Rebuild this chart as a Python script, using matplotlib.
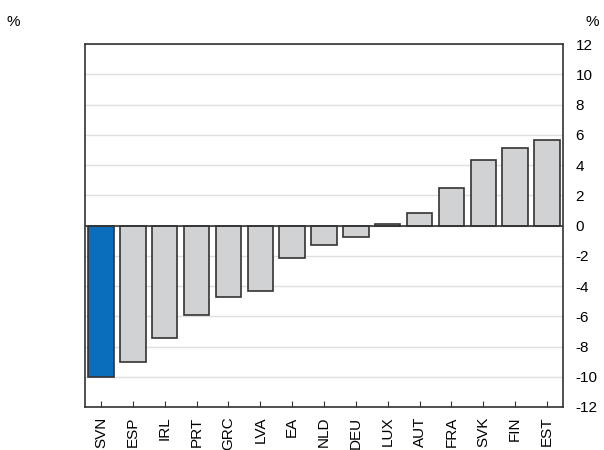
import matplotlib
matplotlib.use("Agg")
import matplotlib.pyplot as plt

plt.rcParams['font.family'] = ['Liberation Sans', 'DejaVu Sans']

countries = ["SVN", "ESP", "IRL", "PRT", "GRC", "LVA", "EA", "NLD", "DEU",
             "LUX", "AUT", "FRA", "SVK", "FIN", "EST"]
values = [-10.0, -9.0, -7.45, -5.9, -4.7, -4.35, -2.15, -1.3, -0.75,
          0.13, 0.8, 2.5, 4.3, 5.1, 5.65]
highlight = "SVN"
y_ticks = list(range(-12, 13, 2))

fig = plt.figure(figsize=(6.04, 4.5), dpi=100)
ax = fig.add_axes([85/604, 1-407/450, (563-85)/604, (407-44)/450])

colors = ["#0a6ebd" if c == highlight else "#d1d2d4" for c in countries]
x = list(range(len(countries)))
ax.bar(x, values, width=0.8, color=colors, edgecolor="#333333", linewidth=1.2, zorder=3)

ax.axhline(0, color="#333333", linewidth=1.2, zorder=4)
ax.set_xlim(-0.5, len(countries) - 0.5)
ax.set_ylim(-12, 12)
ax.set_yticks(y_ticks)
ax.set_yticklabels([str(t) for t in y_ticks])
ax.grid(axis="y", color="#e0e0e0", linewidth=1.0, zorder=0)
ax.set_axisbelow(True)

ax.yaxis.tick_right()
ax.tick_params(axis="y", which="both", length=0, pad=9, labelsize=11, colors="black")
ax.set_xticks(x)
ax.set_xticklabels(countries, rotation=90, fontsize=11)
ax.tick_params(axis="x", direction="in", length=4, width=0.8, pad=7, color="#333333")

for s in ax.spines.values():
    s.set_color("#333333")
    s.set_linewidth(1.2)

fig.text(13/604, 1-22/450, "%", ha="center", va="center", fontsize=11)
fig.text(592/604, 1-22/450, "%", ha="center", va="center", fontsize=11)

fig.savefig("out.png", dpi=100)
